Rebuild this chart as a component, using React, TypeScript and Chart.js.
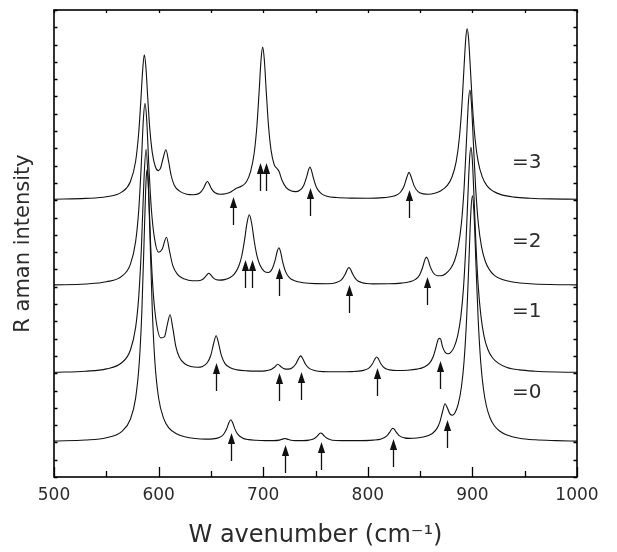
import React, { useEffect, useRef } from 'react';
import { Chart, registerables } from 'chart.js';

Chart.register(...registerables);

const FONT = '"DejaVu Sans", "Liberation Sans", sans-serif';
const WEIGHT = 'normal';
const TEXT = '#2b2b2b';

// ---- spectra (x: wavenumber cm^-1, y: offset Raman intensity, a.u.) ----
const s3x = [500,530,550,565,573,578,581,583,584.8,586.3,587.8,589.6,591.6,594,597,599.7,602,604.5,607,609.5,612,615,620,627,633,639,643,645.2,646.6,648,650.6,654,659,664,669,674,679,684,688,691.5,694,696,698,699.5,701,703,705,707.5,710.5,713,715,718,722,727,731,735,738.5,741.5,743.5,744.7,746,748,751,755,761,770,785,800,815,825,831,834.5,837.5,839.4,841.3,844.3,848,853,858,864,870,876,880.5,884.5,887.5,890,892,893.7,895,896.3,898,900,902.5,905.5,909.5,914,920,928,940,955,975,1000];
const s3y = [277.8,278.6,280.2,285.1,295.3,315.5,344.5,376.1,407.3,422.3,410.7,379.5,348.1,324.2,310.0,306.4,309.3,319.5,327.2,316.0,301.5,291.8,285.9,282.8,282.3,283.8,288.8,293.8,295.5,293.8,288.1,284.3,282.8,283.3,285.1,288.6,290.7,295.3,305.6,324.8,351.2,383.6,418.1,429.9,418.2,384.1,352.2,326.9,312.4,308.8,305.9,296.7,289.3,285.9,285.4,286.8,291.0,300.1,307.7,310.0,307.2,299.0,289.4,283.9,280.7,279.5,278.9,278.8,279.4,280.9,284.5,290.5,300.3,304.6,300.5,291.1,285.4,283.1,282.8,283.8,286.3,291.6,300.0,315.4,338.7,372.3,409.8,439.0,448.3,439.0,409.8,372.3,338.7,315.3,299.9,291.2,285.7,282.1,279.9,278.8,278.1,277.8];

const s2x = [500,530,550,565,573,578,581,583.3,585.5,587,588.5,590.7,593,596,600,603.5,607.5,610.5,613.5,618,625,632,638,643,646,648,650,653,658,663,668,672.5,676.5,679.5,682,684.5,686.7,689,691.5,694,697,701,705,708.5,711.5,713.5,715,716.5,718.5,721.5,725,730,738,750,762,770,775,778.5,780.5,782,783.5,785.5,789,794,805,820,832,840,845.5,849.5,852.5,854.5,856,857.5,859.5,862.5,866.5,870,874,879,883,886.5,889.5,892,894.3,896.2,897.6,899,900.9,903.2,905.7,908.7,912.2,916.2,921,928,940,955,975,1000];
const s2y = [192.1,193.0,195.2,200.8,212.6,235.1,266.7,309.5,358.8,373.8,359.5,310.7,269.0,239.2,224.8,227.9,239.8,225.6,211.6,202.7,197.9,196.3,196.3,198.3,201.9,203.7,201.9,198.4,196.9,197.4,199.3,203.2,210.5,221.0,235.8,253.8,262.2,253.5,235.5,221.4,211.7,205.7,204.5,208.0,217.1,226.0,229.2,225.7,215.7,205.1,199.4,196.2,194.3,193.4,193.3,194.5,197.4,203.0,207.7,209.4,207.7,203.0,197.4,194.5,193.1,193.2,193.9,195.2,197.6,202.1,210.0,217.1,219.9,217.6,210.9,204.3,201.3,201.2,203.0,208.2,216.5,230.7,253.6,287.7,335.4,375.1,387.0,374.9,335.2,287.4,253.3,230.4,216.0,207.4,201.7,197.7,194.7,193.3,192.5,192.1];

const s1x = [500,530,550,565,573,578,581,583.5,586,588,590,592.5,595,598,602,605.5,608.5,611,613.5,616.5,620,625,631,637,642,646.5,650,652.5,655,657.5,660,663.5,668,675,685,695,702,707.5,711,714,717,720.5,723.7,727.5,731,733.8,735.8,737.8,740.6,744,749,757,770,785,795,801,804.5,806.8,808.5,810.2,812.5,816,821,828,838,847,854,859,862.5,865,866.7,868,869.5,871.5,874,877,879.5,882.5,886,889,891.5,893.8,895.8,897.3,898.6,899.9,901.4,903.4,905.7,908.2,911.2,914.7,919,925,933,945,960,980,1000];
const s1y = [104.7,105.8,108.1,114.5,126.8,149.3,180.1,228.0,296.9,327.8,297.5,229.4,182.5,153.5,139.1,140.1,153.2,162.3,149.3,130.3,119.4,113.3,110.5,109.8,110.6,114.2,122.0,133.0,141.3,132.9,121.6,113.4,109.5,107.1,106.1,105.9,106.1,107.4,110.0,112.7,110.3,108.1,107.9,109.0,112.7,118.4,121.1,118.3,112.5,108.6,106.5,105.4,105.2,105.4,106.4,108.9,113.3,118.0,120.0,118.0,113.3,109.0,107.1,106.5,106.8,107.9,110.1,113.9,120.3,129.0,135.9,138.6,138.1,130.1,124.6,123.2,124.9,129.9,141.7,160.9,189.4,232.8,283.5,318.0,329.8,317.8,283.4,232.6,189.1,160.6,140.4,127.8,119.5,113.6,109.6,107.1,105.8,105.0,104.7];

const s0x = [500,530,550,565,573,578,581.5,584,586.5,588,589,590,591.5,594,596.5,600,605,610,617,625,635,645,652,658,662,665,667.3,669,670.7,673,676,680,686,693,702,710,715.5,718.5,720.8,723,726.5,731,738,744,748.5,751.5,753.5,755,756.5,758.5,761.5,766,775,790,805,813,818,821,822.6,824,825.4,827,830,835,840,847,853,858,862,866,869,871.5,873.8,876,878.5,881,883.5,886.5,889.5,892,894.5,896.5,898.5,900,901.5,903.5,905.5,908,910.5,913.5,917,921,926,933,945,960,980,1000];
const s0y = [36.0,37.0,39.3,45.7,57.7,78.7,114.2,165.7,249.2,296.0,307.5,296.2,249.4,166.0,114.5,79.0,58.1,48.8,43.2,40.2,38.5,37.9,38.1,39.5,42.5,48.0,54.6,57.2,54.6,47.9,42.3,39.1,37.4,36.7,36.4,36.4,36.9,37.9,38.5,37.9,36.8,36.4,36.4,36.9,38.3,40.7,43.1,44.0,43.2,40.9,38.4,36.8,36.4,36.4,36.9,38.1,40.8,44.9,47.5,48.8,47.7,45.2,41.4,39.1,38.6,39.0,40.0,41.6,43.8,48.4,55.4,65.5,73.2,69.3,63.1,61.8,64.5,73.1,90.0,115.3,159.0,210.7,264.3,281.1,264.0,210.3,158.3,114.2,88.5,70.5,58.8,51.2,46.0,42.0,38.8,37.2,36.4,35.9];

// ---- assigned modes (arrows): wavenumber and tip intensity ----
const arrows3X = [671.4, 697, 703, 744.7, 839.4];
const arrows3Tip = [280, 314, 314, 289, 287];
const arrows2X = [682.6, 689, 715, 782, 856.3];
const arrows2Tip = [217, 217, 209, 192, 200];
const arrows1X = [654.9, 715, 735.8, 808.5, 869];
const arrows1Tip = [114, 104, 105, 109, 116];
const arrows0X = [669, 720.8, 755, 823.8, 876];
const arrows0Tip = [44, 32, 35, 38, 57];

const seriesLabels = ['=0', '=1', '=2', '=3'];
const xTickLabels = [500, 600, 700, 800, 900, 1000];

// ---- presentation ----
const LABEL_X = 952;
const LABEL_Y = [84, 165, 235, 314];
const ARROW_LEN = 28;
const HEAD_LEN = 11;
const HEAD_HALF = 3.6;

const toPoints = (xs: number[], ys: number[]) => xs.map((v, i) => ({ x: v, y: ys[i] }));

const decorPlugin = {
  id: 'decor',
  beforeDraw(chart: any) {
    const { ctx, width, height } = chart;
    ctx.save();
    ctx.fillStyle = '#ffffff';
    ctx.fillRect(0, 0, width, height);
    ctx.restore();
  },
  afterDatasetsDraw(chart: any) {
    const { ctx, scales } = chart;
    const xs = scales.x;
    const ys = scales.y;
    const groups = [
      [arrows0X, arrows0Tip],
      [arrows1X, arrows1Tip],
      [arrows2X, arrows2Tip],
      [arrows3X, arrows3Tip],
    ];
    ctx.save();
    ctx.fillStyle = '#111';
    ctx.strokeStyle = '#111';
    ctx.lineWidth = 1.3;
    groups.forEach(([gx, gt]) => {
      gx.forEach((wn: number, i: number) => {
        const px = Math.round(xs.getPixelForValue(wn)) + 0.5;
        const tip = ys.getPixelForValue(gt[i]);
        ctx.beginPath();
        ctx.moveTo(px, tip + HEAD_LEN - 1);
        ctx.lineTo(px, tip + ARROW_LEN);
        ctx.stroke();
        ctx.beginPath();
        ctx.moveTo(px, tip);
        ctx.lineTo(px - HEAD_HALF, tip + HEAD_LEN);
        ctx.lineTo(px + HEAD_HALF, tip + HEAD_LEN);
        ctx.closePath();
        ctx.fill();
      });
    });
    ctx.font = `${WEIGHT} 20px ${FONT}`;
    ctx.fillStyle = TEXT;
    ctx.textAlign = 'center';
    ctx.textBaseline = 'middle';
    seriesLabels.forEach((t, i) => {
      ctx.fillText(t, xs.getPixelForValue(LABEL_X), ys.getPixelForValue(LABEL_Y[i]));
    });
    ctx.restore();
  },
  afterDraw(chart: any) {
    const { ctx, chartArea, scales } = chart;
    const { left, right, top, bottom } = chartArea;
    const xs = scales.x;
    const ys = scales.y;
    ctx.save();
    ctx.strokeStyle = '#000';
    ctx.lineWidth = 1.6;
    ctx.strokeRect(left, top, right - left, bottom - top);
    ctx.lineWidth = 1.3;
    ctx.beginPath();
    xs.ticks.forEach((t: any) => {
      const px = Math.round(xs.getPixelForValue(t.value)) + 0.5;
      const major = Math.abs(t.value % 100) < 1e-6;
      ctx.moveTo(px, bottom);
      ctx.lineTo(px, bottom - (major ? 10 : 6));
      ctx.moveTo(px, top);
      ctx.lineTo(px, top + 3);
    });
    ys.ticks.forEach((t: any) => {
      const py = Math.round(ys.getPixelForValue(t.value)) + 0.5;
      ctx.moveTo(left, py);
      ctx.lineTo(left + 3.5, py);
      ctx.moveTo(right, py);
      ctx.lineTo(right - 3.5, py);
    });
    ctx.stroke();
    ctx.restore();
  },
};

export default function App() {
  const ref = useRef<HTMLCanvasElement | null>(null);

  useEffect(() => {
    if (!ref.current) return;
    const series = [
      { label: seriesLabels[0], data: toPoints(s0x, s0y) },
      { label: seriesLabels[1], data: toPoints(s1x, s1y) },
      { label: seriesLabels[2], data: toPoints(s2x, s2y) },
      { label: seriesLabels[3], data: toPoints(s3x, s3y) },
    ];
    const chart = new Chart(ref.current, {
      type: 'line',
      data: {
        datasets: series.map((s) => ({
          label: s.label,
          data: s.data,
          borderColor: '#111',
          borderWidth: 1.1,
          pointRadius: 0,
          fill: false,
          cubicInterpolationMode: 'monotone' as const,
        })),
      },
      options: {
        responsive: false,
        animation: false,
        devicePixelRatio: 1,
        layout: { padding: { left: 0, right: 40, top: 10, bottom: 0 } },
        plugins: { legend: { display: false }, tooltip: { enabled: false } },
        scales: {
          x: {
            type: 'linear',
            min: 500,
            max: 1000,
            grid: { display: false, drawTicks: false },
            border: { display: false },
            ticks: {
              stepSize: 50,
              autoSkip: false,
              maxRotation: 0,
              padding: 8,
              color: TEXT,
              font: { family: FONT, size: 17, weight: WEIGHT },
              callback: (v: any) => (xTickLabels.includes(Number(v)) ? String(v) : ''),
            },
            title: {
              display: true,
              text: 'W avenumber (cm⁻¹)',
              color: TEXT,
              font: { family: FONT, size: 24, weight: WEIGHT },
              padding: { top: 0, bottom: 2 },
            },
            afterFit: (s: any) => { s.height = 75; },
          },
          y: {
            type: 'linear',
            min: 0,
            max: 467,
            grid: { display: false, drawTicks: false },
            border: { display: false },
            ticks: { display: false, stepSize: 17.3 },
            title: {
              display: true,
              text: 'R aman intensity',
              color: TEXT,
              font: { family: FONT, size: 21, weight: WEIGHT },
              padding: { top: 11, bottom: 0 },
            },
            afterFit: (s: any) => { s.width = 54; },
          },
        },
      },
      plugins: [decorPlugin],
    } as any);
    return () => chart.destroy();
  }, []);

  return (
    <div style={{ position: 'fixed', left: 0, top: 0, width: 617, height: 552, background: '#fff' }}>
      <canvas ref={ref} width={617} height={552} style={{ width: 617, height: 552, display: 'block' }} />
    </div>
  );
}
